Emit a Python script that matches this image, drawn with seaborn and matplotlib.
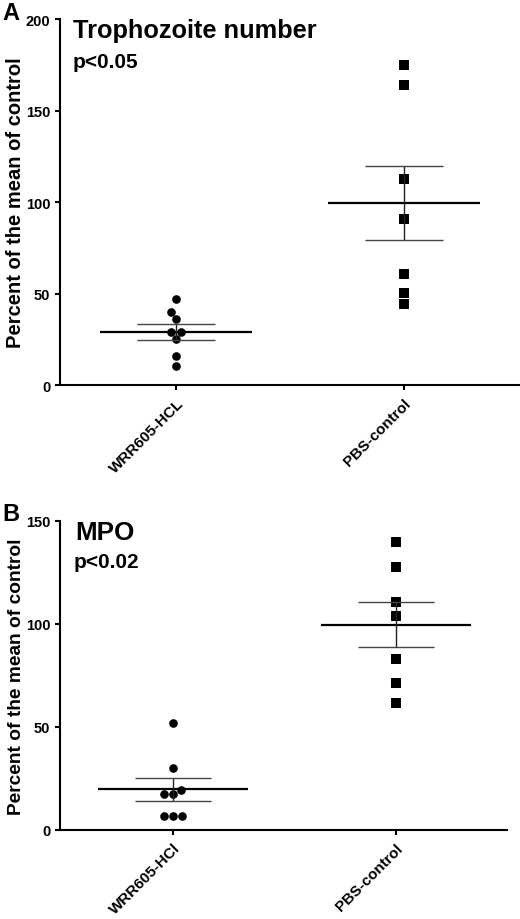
import numpy as np
import matplotlib
matplotlib.use("Agg")
import matplotlib.pyplot as plt
import seaborn as sns

# --- Data ---
groups_a = ["WRR605-HCL", "PBS-control"]
groups_b = ["WRR605-HCl", "PBS-control"]

tropho_wrr = [47, 40, 36, 29, 29, 25, 16, 10.5]
tropho_pbs = [175, 164, 112.5, 90.5, 60.5, 50.5, 44.5]

mpo_wrr = [52, 30, 19.5, 17.5, 17.5, 7, 7, 7]
mpo_pbs = [140, 127.5, 110.5, 104, 83, 71.5, 61.5]

W, H = 520, 920


def fx(px):
    return px / W


def fy(py):
    return 1 - py / H


# --- Style ---
sns.set_theme(style="ticks")
plt.rcParams["font.family"] = ["Liberation Sans", "DejaVu Sans"]
plt.rcParams["axes.linewidth"] = 1.5
plt.rcParams["axes.edgecolor"] = "black"
plt.rcParams["text.color"] = "black"
plt.rcParams["axes.labelcolor"] = "black"
plt.rcParams["xtick.color"] = "black"
plt.rcParams["ytick.color"] = "black"


def scatter_panel(ax, order, wrr, pbs, ymax, ystep, label_size):
    sns.swarmplot(x=[order[0]] * len(wrr), y=wrr, order=order, ax=ax,
                  color="black", marker="o", size=6.2, linewidth=0)
    sns.swarmplot(x=[order[1]] * len(pbs), y=pbs, order=order, ax=ax,
                  color="black", marker="s", size=6.5, linewidth=0)
    # mean +/- SEM
    for i, vals in enumerate([wrr, pbs]):
        vals = np.asarray(vals, dtype=float)
        m = vals.mean()
        sem = vals.std(ddof=1) / np.sqrt(len(vals))
        ax.hlines(m, i - 0.335, i + 0.335, color="black", lw=1.6, zorder=4)
        ax.vlines(i, m - sem, m + sem, color="#222222", lw=1.0, zorder=4)
        ax.hlines([m - sem, m + sem], i - 0.17, i + 0.17, color="#444444",
                  lw=1.0, zorder=4)
    ax.set_ylim(0, ymax)
    ax.set_yticks(np.arange(0, ymax + 1, ystep))
    sns.despine(ax=ax)
    ax.tick_params(axis="both", direction="out", length=3.6, width=1.5,
                   colors="black", labelsize=10.5)
    for lab in ax.get_yticklabels():
        lab.set_fontweight("bold")
    ax.set_xticks([0, 1])
    ax.set_xticklabels(order, rotation=45, ha="right", va="top",
                       rotation_mode="anchor", fontsize=11,
                       fontweight="bold")
    ax.tick_params(axis="x", pad=4)
    ax.set_xlabel("")
    ax.set_ylabel("Percent of the mean of control", fontsize=label_size,
                  fontweight="bold", color="black")


fig = plt.figure(figsize=(W / 100, H / 100), dpi=100)

ax_a = fig.add_axes([fx(60), fy(386), fx(460), 366 / H])
scatter_panel(ax_a, groups_a, tropho_wrr, tropho_pbs, 200, 50, 14.5)
ax_a.set_xlim(-0.51, 1.51)
ax_a.yaxis.set_label_coords((25 - 60) / 460, 0.5)

ax_b = fig.add_axes([fx(60), fy(831), fx(447), 309 / H])
scatter_panel(ax_b, groups_b, mpo_wrr, mpo_pbs, 150, 50, 13.8)
ax_b.set_xlim(-0.507, 1.498)
ax_b.yaxis.set_label_coords((25 - 60) / 447, 0.5)

# --- Annotations ---
fig.text(fx(2), fy(20), "A", fontsize=17, fontweight="bold", va="baseline")
fig.text(fx(2), fy(521), "B", fontsize=17, fontweight="bold", va="baseline")
fig.text(fx(73), fy(38), "Trophozoite number", fontsize=18.3,
         fontweight="bold", va="baseline")
fig.text(fx(73), fy(68), "p<0.05", fontsize=15, fontweight="bold",
         va="baseline")
fig.text(fx(75), fy(540), "MPO", fontsize=18.7, fontweight="bold",
         va="baseline")
fig.text(fx(74), fy(568), "p<0.02", fontsize=15, fontweight="bold",
         va="baseline")

fig.savefig("out.png", dpi=100, facecolor="white")
